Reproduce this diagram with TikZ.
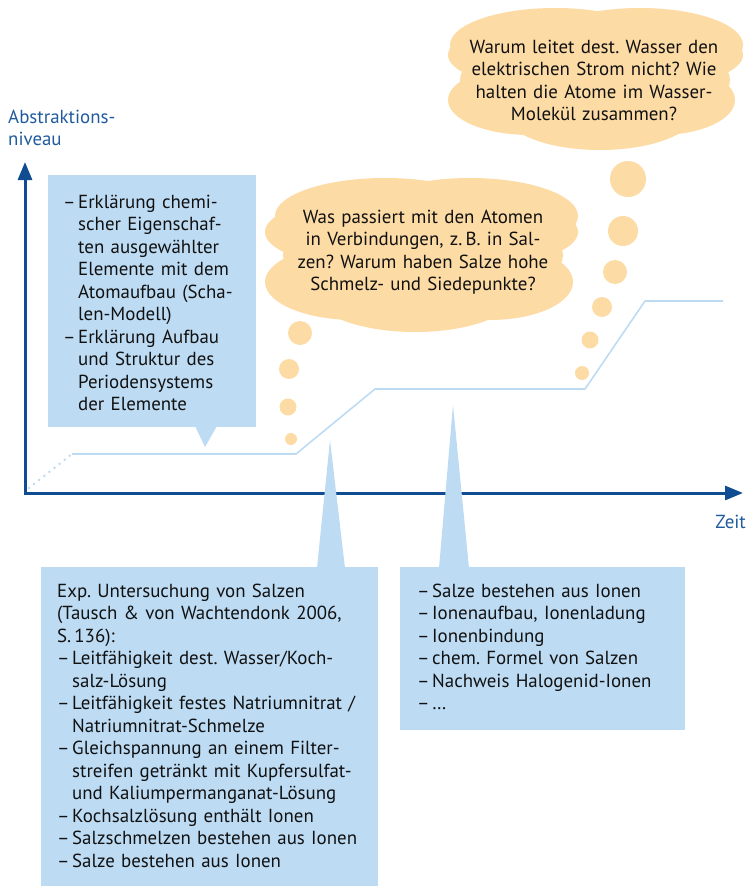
\documentclass[tikz,border=0pt]{standalone}
\usepackage{fontspec}
\setmainfont{PT Sans}
\usetikzlibrary{arrows.meta}
\definecolor{boxblue}{HTML}{BDDCF4}
\definecolor{cloudc}{HTML}{FDDBA5}
\definecolor{axisblue}{HTML}{104C91}
\definecolor{lineblue}{HTML}{BDDCF4}
\definecolor{labelblue}{HTML}{1F5B9C}
\definecolor{textc}{HTML}{111111}
\newcommand\dl{\makebox[15pt][l]{–}}
\newcommand\ind{\hspace*{15pt}}
\frenchspacing
\begin{document}
\begin{tikzpicture}[x=1pt,y=-1pt,
  ftxt/.style={font=\fontsize{18.9}{22.5}\selectfont, inner sep=0pt, text=textc},
  ltxt/.style={ftxt, text width=#1, align=left, anchor=base west},
  ctxt/.style={ftxt, text width=#1, align=center, anchor=base},
  panel/.style={fill=boxblue, inner sep=0pt, anchor=north west},
  bubble/.style={fill=cloudc},
  axis/.style={draw=axisblue, line width=3pt},
  path line/.style={draw=lineblue, line width=1.6pt}
]
\useasboundingbox (0,0) rectangle (749,886);

% axes
\coordinate (ytip) at (25,162);
\coordinate (origin) at (25,493);
\coordinate (xtip) at (743,493);
\draw[axis, line join=miter, {Triangle[length=18pt,width=14pt]}-{Triangle[length=18pt,width=14pt]}] (ytip) -- (origin) -- (xtip);
\node[ftxt, text=labelblue, text width=150pt, align=left, anchor=base west] (ylab) at (8,123) {Abstraktions-\\niveau};
\node[ftxt, text=labelblue, anchor=base east] (xlab) at (746,528) {Zeit};

% level line
\coordinate (l0) at (29,488);
\coordinate (l1) at (72,454);
\coordinate (l2) at (296,454);
\coordinate (l3) at (375,389);
\coordinate (l4) at (585,389);
\coordinate (l5) at (645,301);
\coordinate (l6) at (723,301);
\draw[draw=lineblue, line width=2.8pt, line cap=round, dash pattern=on 0pt off 6.5pt] (l0) -- (l1);
\draw[path line] (l1) -- (l2) -- (l3) -- (l4) -- (l5) -- (l6);

% cloud 1
\begin{scope}
\fill[cloudc] (385,216) ellipse [x radius=110pt, y radius=38pt];
\fill[cloudc] (470,216) ellipse [x radius=108pt, y radius=38pt];
\fill[cloudc] (350,232) ellipse [x radius=85pt, y radius=32pt];
\fill[cloudc] (355,282) ellipse [x radius=90pt, y radius=38pt];
\fill[cloudc] (490,232) ellipse [x radius=88pt, y radius=32pt];
\fill[cloudc] (490,282) ellipse [x radius=83pt, y radius=38pt];
\fill[cloudc] (415,294) ellipse [x radius=100pt, y radius=38pt];
\fill[cloudc] (423,255) ellipse [x radius=140pt, y radius=52pt];
\end{scope}
\node[ctxt=310pt] (q1) at (423,223) {Was passiert mit den Atomen\\in Verbindungen, z.\,B. in Sal-\\zen? Warum haben Salze hohe\\Schmelz- und Siedepunkte?};
\fill[bubble] (300,333) circle (12pt);
\fill[bubble] (289,369) circle (10pt);
\fill[bubble] (288,407) circle (8.5pt);
\fill[bubble] (291,439) circle (6pt);

% cloud 2
\begin{scope}
\fill[cloudc] (555,45) ellipse [x radius=105pt, y radius=37pt];
\fill[cloudc] (640,45) ellipse [x radius=103pt, y radius=37pt];
\fill[cloudc] (530,55) ellipse [x radius=82pt, y radius=30pt];
\fill[cloudc] (530,100) ellipse [x radius=82pt, y radius=35pt];
\fill[cloudc] (660,55) ellipse [x radius=83pt, y radius=30pt];
\fill[cloudc] (660,100) ellipse [x radius=75pt, y radius=35pt];
\fill[cloudc] (600,113) ellipse [x radius=95pt, y radius=37pt];
\fill[cloudc] (595,80) ellipse [x radius=135pt, y radius=48pt];
\end{scope}
\node[ctxt=300pt] (q2) at (594,53) {Warum leitet dest. Wasser den\\elektrischen Strom nicht? Wie\\halten die Atome im Wasser-\\Molekül zusammen?};
\fill[bubble] (628,179) circle (18pt);
\fill[bubble] (623,231) circle (15pt);
\fill[bubble] (615,272) circle (12pt);
\fill[bubble] (602,307) circle (10pt);
\fill[bubble] (590,340) circle (8.5pt);
\fill[bubble] (582,373) circle (7pt);

% left box
\node[panel, minimum width=208pt, minimum height=252pt] (boxL) at (48,175) {};
\fill[boxblue] (195,426) -- (205,447) -- (217,426) -- cycle;
\node[ltxt=190pt] (tL) at (63,208) {\dl Erklärung chemi-\\\ind scher Eigenschaf-\\\ind ten ausgewählter\\\ind Elemente mit dem\\\ind Atomaufbau (Scha-\\\ind len-Modell)\\\dl Erklärung Aufbau\\\ind und Struktur des\\\ind Periodensystems\\\ind der Elemente};

% bottom boxes
\fill[boxblue] (317,568) -- (330,440) -- (345,568) -- cycle;
\fill[boxblue] (439,568) -- (453,405) -- (469,568) -- cycle;
\node[panel, minimum width=337pt, minimum height=319pt] (boxA) at (41,567) {};
\node[panel, minimum width=285pt, minimum height=163pt] (boxB) at (400,567) {};
\node[ltxt=320pt] (tA) at (57,597) {Exp. Untersuchung von Salzen\\(Tausch \& von Wachtendonk 2006,\\S.\,136):\\\dl Leitfähigkeit dest. Wasser/Koch-\\\ind salz-Lösung\\\dl Leitfähigkeit festes Natriumnitrat /\\\ind Natriumnitrat-Schmelze\\\dl Gleichspannung an einem Filter-\\\ind streifen getränkt mit Kupfersulfat-\\\ind und Kaliumpermanganat-Lösung\\\dl Kochsalzlösung enthält Ionen\\\dl Salzschmelzen bestehen aus Ionen\\\dl Salze bestehen aus Ionen};
\node[ltxt=260pt] (tB) at (417,597) {\dl Salze bestehen aus Ionen\\\dl Ionenaufbau, Ionenladung\\\dl Ionenbindung\\\dl chem. Formel von Salzen\\\dl Nachweis Halogenid-Ionen\\\dl …};
\end{tikzpicture}
\end{document}
